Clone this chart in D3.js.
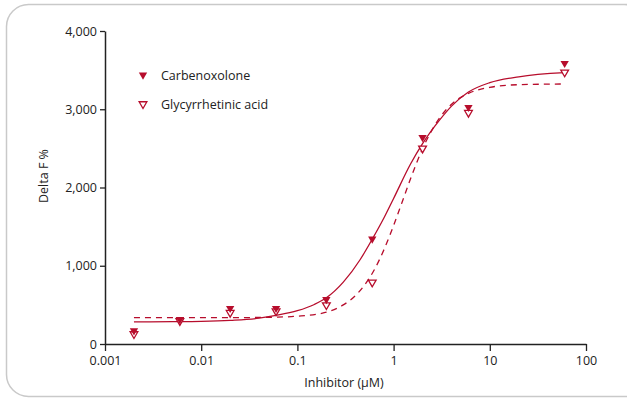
<!DOCTYPE html>
<html><head><meta charset="utf-8">
<script src="https://cdn.jsdelivr.net/npm/d3@7"></script>
<style>
html,body{margin:0;padding:0;background:#fff;}
svg{display:block;}
text{font-family:"Open Sans","Noto Sans",sans-serif;fill:#222;}
</style></head>
<body>
<svg id="chart" width="627" height="400"></svg>
<script>
// ---- data ----
const concentrations = [0.002, 0.006, 0.02, 0.06, 0.2, 0.6, 2, 6, 60];
const carbenoxolone   = [170, 315, 456, 456, 570, 1342, 2641, 3025, 3587];
const glycyrrhetinic  = [128, 295, 400, 420, 498, 788, 2500, 2956, 3472];

// fitted curves
const fitCarbX = [0.002, 0.005, 0.01, 0.02, 0.04, 0.06, 0.1, 0.15, 0.2, 0.3, 0.45, 0.6, 0.8, 1.0, 1.5, 2, 3, 4, 6, 10, 20, 60];
const fitCarbY = [282, 285, 290, 303, 330, 365, 425, 505, 590, 790, 1080, 1340, 1620, 1860, 2300, 2560, 2860, 3040, 3220, 3340, 3415, 3467];
const fitGlyX  = [0.002, 0.01, 0.03, 0.06, 0.1, 0.19, 0.3, 0.4, 0.5, 0.64, 0.8, 1.0, 1.22, 1.5, 2, 3, 4, 6, 10, 20, 60];
const fitGlyY  = [336, 336, 338, 343, 355, 400, 500, 617, 754, 964, 1215, 1514, 1806, 2112, 2495, 2888, 3063, 3203, 3280, 3314, 3323];

const xTicks = [0.001, 0.01, 0.1, 1, 10, 100];
const xTickLabels = ["0.001", "0.01", "0.1", "1", "10", "100"];
const yTicks = [0, 1000, 2000, 3000, 4000];
const seriesNames = ["Carbenoxolone", "Glycyrrhetinic acid"];
const xTitle = "Inhibitor (\u00B5M)";
const yTitle = "Delta F %";

// ---- drawing ----
const red = "#b70d2c";
const svg = d3.select("#chart");

svg.append("rect")
  .attr("x", 6.5).attr("y", 4.5).attr("width", 640).attr("height", 392)
  .attr("rx", 22).attr("ry", 22)
  .attr("fill", "none").attr("stroke", "#c9c9c9").attr("stroke-width", 1.5);

const x = d3.scaleLog().domain([0.001, 100]).range([105, 586]);
const y = d3.scaleLinear().domain([0, 4000]).range([344, 31]);

// axes
const xAxis = svg.append("g").attr("transform", "translate(0,344)")
  .call(d3.axisBottom(x).tickValues(xTicks).tickFormat((d, i) => xTickLabels[i]).tickSize(7).tickSizeOuter(0).tickPadding(5));
const yAxis = svg.append("g").attr("transform", "translate(105,0)")
  .call(d3.axisLeft(y).tickValues(yTicks).tickFormat(d3.format(",")).tickSize(5).tickSizeOuter(0).tickPadding(3));
[xAxis, yAxis].forEach(g => {
  g.select(".domain").attr("stroke", "#222").attr("stroke-width", 1.5);
  g.selectAll(".tick line").attr("stroke", "#222").attr("stroke-width", 1.3);
  g.selectAll(".tick text").style("font-size", "12.5px").attr("fill", "#222");
});

// titles
svg.append("text").attr("x", 344).attr("y", 387).attr("text-anchor", "middle")
  .style("font-size", "12.5px").text(xTitle);
svg.append("text").attr("transform", "translate(48,176) rotate(-90)").attr("text-anchor", "middle")
  .style("font-size", "12.5px").text(yTitle);

// curves
const line = d3.line().x(d => x(d[0])).y(d => y(d[1])).curve(d3.curveMonotoneX);
svg.append("path").datum(d3.zip(fitGlyX, fitGlyY)).attr("d", line)
  .attr("fill", "none").attr("stroke", red).attr("stroke-width", 1.3).attr("stroke-dasharray", "6,5");
svg.append("path").datum(d3.zip(fitCarbX, fitCarbY)).attr("d", line)
  .attr("fill", "none").attr("stroke", red).attr("stroke-width", 1.3);

// markers
const tri = d3.symbol().type(d3.symbolTriangle).size(30);
const triOpen = d3.symbol().type(d3.symbolTriangle).size(26);
svg.append("g").selectAll("path").data(d3.zip(concentrations, glycyrrhetinic)).join("path")
  .attr("d", triOpen)
  .attr("transform", d => `translate(${x(d[0])},${y(d[1])}) rotate(180)`)
  .attr("fill", "#fff").attr("stroke", red).attr("stroke-width", 1.3);
svg.append("g").selectAll("path").data(d3.zip(concentrations, carbenoxolone)).join("path")
  .attr("d", tri)
  .attr("transform", d => `translate(${x(d[0])},${y(d[1])}) rotate(180)`)
  .attr("fill", red);

// legend
const legend = svg.append("g");
legend.append("path").attr("d", tri).attr("transform", "translate(143,75) rotate(180)").attr("fill", red);
legend.append("path").attr("d", triOpen).attr("transform", "translate(143,104) rotate(180)")
  .attr("fill", "#fff").attr("stroke", red).attr("stroke-width", 1.3);
legend.append("text").attr("x", 161).attr("y", 80).style("font-size", "12.5px").text(seriesNames[0]);
legend.append("text").attr("x", 161).attr("y", 109).style("font-size", "12.5px").text(seriesNames[1]);
</script>
</body></html>
